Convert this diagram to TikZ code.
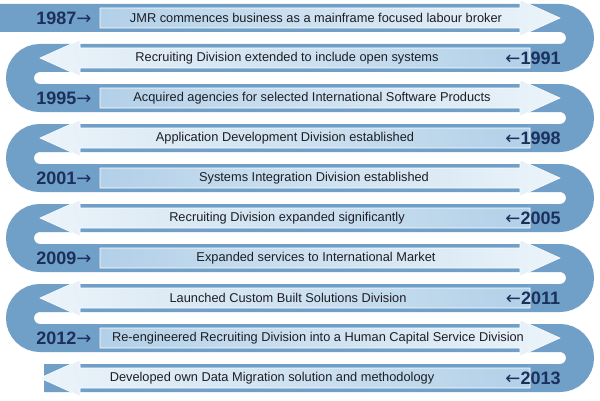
\documentclass[tikz,border=0pt]{standalone}
\usepackage{fontspec}
\setmainfont{Liberation Sans}
\newfontfamily\arrowfont{DejaVu Sans}
\usetikzlibrary{positioning}
\definecolor{bandblue}{RGB}{112,160,200}
\definecolor{arrowlight}{RGB}{178,208,232}
\definecolor{arrowpale}{RGB}{236,244,250}
\definecolor{yearnavy}{RGB}{28,48,92}
\definecolor{textgrey}{RGB}{30,30,35}

\begin{document}
\begin{tikzpicture}[
        x=1pt, y=1pt,
        band/.style={line width=28pt, draw=bandblue},
        rarrow/.style={left color=arrowlight, right color=arrowpale, draw=white, line width=0.6pt},
        larrow/.style={left color=arrowpale, right color=arrowlight, draw=white, line width=0.6pt},
        event/.style={font=\fontsize{12.8}{15}\selectfont, text=textgrey, inner sep=0pt},
        year/.style={font=\bfseries\fontsize{18}{20}\selectfont, text=yearnavy, inner sep=0pt}
    ]
        \useasboundingbox (0,0) rectangle (600,400);

        % Ribbon
        \draw[band] (0,382) -- (560,382) arc(90:-90:20) -- (40,342) arc(90:270:20)
            -- (560,302) arc(90:-90:20) -- (40,262) arc(90:270:20)
            -- (560,222) arc(90:-90:20) -- (40,182) arc(90:270:20)
            -- (560,142) arc(90:-90:20) -- (40,102) arc(90:270:20)
            -- (560,62) arc(90:-90:20) -- (44,22);

        % Rightward arrows
        \foreach \y in {382,302,222,142,62}
            \draw[rarrow] (100,\y-10) -- (520,\y-10) -- (520,\y-18) -- (560,\y)
                -- (520,\y+18) -- (520,\y+10) -- (100,\y+10) -- cycle;

        % Leftward arrows
        \foreach \y in {342,262,182,102,22}
            \draw[larrow] (530,\y-10) -- (80,\y-10) -- (80,\y-18) -- (40,\y)
                -- (80,\y+18) -- (80,\y+10) -- (530,\y+10) -- cycle;

        % Events
        \node[event] (e1987) at (316,382) {JMR commences business as a mainframe focused labour broker};
        \node[event] (e1991) at (287,342) {Recruiting Division extended to include open systems};
        \node[event] (e1995) at (312,302) {Acquired agencies for selected International Software Products};
        \node[event] (e1998) at (285,262) {Application Development Division established};
        \node[event] (e2001) at (314,222) {Systems Integration Division established};
        \node[event] (e2005) at (287,182) {Recruiting Division expanded significantly};
        \node[event] (e2009) at (316,142) {Expanded services to International Market};
        \node[event] (e2011) at (288,102) {Launched Custom Built Solutions Division};
        \node[event] (e2012) at (318,62) {Re-engineered Recruiting Division into a Human Capital Service Division};
        \node[event] (e2013) at (272,22) {Developed own Data Migration solution and methodology};

        % Years
        \node[year] (y1987) at (64,382) {1987{\arrowfont\mdseries →}};
        \node[year] (y1991) at (533,342) {{\arrowfont\mdseries ←}1991};
        \node[year] (y1995) at (64,302) {1995{\arrowfont\mdseries →}};
        \node[year] (y1998) at (533,262) {{\arrowfont\mdseries ←}1998};
        \node[year] (y2001) at (64,222) {2001{\arrowfont\mdseries →}};
        \node[year] (y2005) at (533,182) {{\arrowfont\mdseries ←}2005};
        \node[year] (y2009) at (64,142) {2009{\arrowfont\mdseries →}};
        \node[year] (y2011) at (533,102) {{\arrowfont\mdseries ←}2011};
        \node[year] (y2012) at (64,62) {2012{\arrowfont\mdseries →}};
        \node[year] (y2013) at (533,22) {{\arrowfont\mdseries ←}2013};
    \end{tikzpicture}
\end{document}
